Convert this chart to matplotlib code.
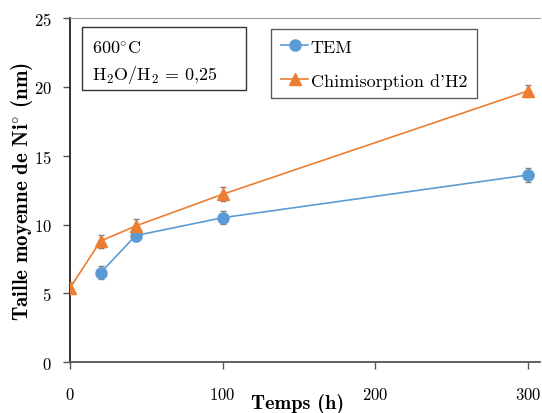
import numpy as np
import matplotlib
matplotlib.use("Agg")
import matplotlib.pyplot as plt
from matplotlib.patches import Rectangle

plt.rcParams['font.family'] = ['cmr10', 'DejaVu Serif']
plt.rcParams['mathtext.fontset'] = 'cm'
plt.rcParams['axes.formatter.use_mathtext'] = True

# donnees
temps_tem = [20, 43, 100, 300]
taille_tem = [6.5, 9.2, 10.5, 13.6]
err_tem = [0.48, 0.42, 0.48, 0.48]

temps_chimi = [0, 20, 43, 100, 300]
taille_chimi = [5.4, 8.8, 9.9, 12.2, 19.7]
err_chimi = [0.4, 0.48, 0.52, 0.5, 0.47]

bleu = '#5B9BD5'
orange = '#ED7D31'

fig = plt.figure(figsize=(5.42, 4.14), dpi=100)
ax = fig.add_axes([0.1292, 0.1225, 0.867, 0.8315])

eb1 = ax.errorbar(temps_tem, taille_tem, yerr=err_tem, color=bleu, marker='o', markersize=8,
                  linewidth=1.2, ecolor='#7f7f7f', elinewidth=1, capsize=2.5, zorder=3)
eb2 = ax.errorbar(temps_chimi, taille_chimi, yerr=err_chimi, color=orange, marker='^', markersize=8,
                  linewidth=1.2, ecolor='#7f7f7f', elinewidth=1, capsize=2.5, zorder=3)

ax.set_xlim(0, 308)
ax.set_ylim(0, 25)
ax.set_xticks([0, 100, 200, 300])
ax.set_yticks([0, 5, 10, 15, 20, 25])
ax.tick_params(axis='both', labelsize=12, direction='out', length=5, width=1, color='#555555')
ax.tick_params(axis='x', pad=12)
ax.tick_params(axis='y', pad=8)
ax.spines['right'].set_visible(False)
ax.spines['top'].set_color('#999999')
ax.spines['left'].set_color('#222222')
ax.spines['bottom'].set_color('#555555')
ax.spines['left'].set_linewidth(1.3)
ax.spines['bottom'].set_linewidth(1.3)

ax.set_xlabel('Temps (h)', fontsize=14.5, fontfamily='cmb10', va='bottom')
ax.xaxis.set_label_coords(0.484, -0.148)
ax.set_ylabel('Taille moyenne de Ni$^{\\circ}$ (nm)', fontsize=15, fontfamily='cmb10', va='center')
ax.yaxis.set_label_coords(-0.103, 0.5)

ax.add_patch(Rectangle((0.0255, 0.791), 0.349, 0.183, transform=ax.transAxes, facecolor='white',
                       edgecolor='#333333', linewidth=1, zorder=4))
ax.text(0.047, 0.915, '600$^{\\circ}$C', transform=ax.transAxes, fontsize=13,
        va='center', ha='left', zorder=5)
ax.text(0.047, 0.837, 'H$_2$O/H$_2$ = 0,25', transform=ax.transAxes, fontsize=13,
        va='center', ha='left', zorder=5)

leg = ax.legend([eb1.lines[0], eb2.lines[0]], ['TEM', "Chimisorption d'H2"],
                loc='upper left', bbox_to_anchor=(0.428, 0.968), borderaxespad=0,
                fontsize=13, frameon=True, fancybox=False, edgecolor='#333333',
                handlelength=1.5, handletextpad=0.15, borderpad=0.55, labelspacing=1.0)
leg.get_frame().set_linewidth(1)

fig.savefig('out.png', dpi=100)
